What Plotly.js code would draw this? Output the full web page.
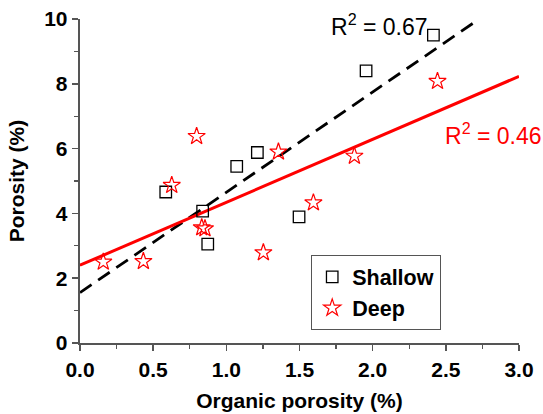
<!DOCTYPE html>
<html>
<head>
<meta charset="utf-8">
<script src="https://cdn.plot.ly/plotly-3.0.1.min.js"></script>
<style>html,body{margin:0;padding:0;background:#fff;}#chart{width:543px;height:414px;}</style>
</head>
<body>
<div id="chart"></div>
<script>
// Shallow samples (squares)
const shallowX = [0.586, 0.838, 0.873, 1.071, 1.212, 1.497, 1.955, 2.415];
const shallowY = [4.66, 4.07, 3.05, 5.45, 5.88, 3.89, 8.40, 9.50];
// Deep samples (stars)
const deepX = [0.159, 0.433, 0.627, 0.797, 0.832, 0.854, 1.253, 1.356, 1.595, 1.875, 2.443];
const deepY = [2.50, 2.52, 4.87, 6.38, 3.56, 3.53, 2.79, 5.90, 4.33, 5.77, 8.08];
// Linear fits: [x start, x end], intercept, slope
const shallowFitX = [0, 2.69];
const shallowFitIntercept = 1.556;
const shallowFitSlope = 3.095;
const deepFitX = [0, 3.0];
const deepFitIntercept = 2.40;
const deepFitSlope = 1.943;
const r2Labels = ["R<sup>2</sup> = 0.67", "R<sup>2</sup> = 0.46"];

const fitY = (xs, b, m) => xs.map(x => b + m * x);

const traces = [
  {x: shallowFitX, y: fitY(shallowFitX, shallowFitIntercept, shallowFitSlope), mode: 'lines',
   line: {color: '#000', width: 2.8, dash: '14px,8px'}, showlegend: false, hoverinfo: 'skip'},
  {x: deepFitX, y: fitY(deepFitX, deepFitIntercept, deepFitSlope), mode: 'lines',
   line: {color: '#ff0000', width: 3}, showlegend: false, hoverinfo: 'skip'},
  {x: shallowX, y: shallowY, mode: 'markers', name: 'Shallow', cliponaxis: false,
   marker: {symbol: 'square-open', size: 11.5, color: '#000', line: {width: 1.3, color: '#000'}}},
  {x: deepX, y: deepY, mode: 'markers', name: 'Deep', cliponaxis: false,
   marker: {symbol: 'star-open', size: 13, color: '#ff0000', line: {width: 1.2, color: '#ff0000'}}}
];

const boldFont = {family: 'Arial, Liberation Sans, sans-serif', size: 21, color: '#000', weight: 'bold'};
const axisCommon = {
  showline: true, linecolor: '#555', linewidth: 1.8, mirror: false,
  ticks: 'outside', ticklen: 6.5, tickwidth: 1.5, tickcolor: '#555',
  showgrid: false, zeroline: false, tickfont: boldFont
};

const layout = {
  width: 543, height: 414,
  margin: {l: 80, r: 24, t: 19, b: 71},
  paper_bgcolor: '#fff', plot_bgcolor: '#fff',
  showlegend: true,
  xaxis: Object.assign({}, axisCommon, {
    range: [0, 3.0], dtick: 0.5, tick0: 0, tickformat: '.1f',
    minor: {dtick: 0.25, ticklen: 4, tickcolor: '#555', tickwidth: 1.3, ticks: 'outside'},
    title: {text: 'Organic porosity (%)', font: boldFont, standoff: 14}
  }),
  yaxis: Object.assign({}, axisCommon, {
    range: [0, 10], dtick: 2, tick0: 0,
    minor: {dtick: 1, ticklen: 4, tickcolor: '#555', tickwidth: 1.3, ticks: 'outside'},
    title: {text: 'Porosity (%)', font: boldFont, standoff: 14}
  }),
  legend: {
    x: 0.526, y: 0.271, xanchor: 'left', yanchor: 'top',
    bordercolor: '#555', borderwidth: 1.3, bgcolor: '#fff',
    font: {family: 'Arial, Liberation Sans, sans-serif', size: 21.5, color: '#000', weight: 'bold'},
    tracegroupgap: 2
  },
  annotations: [
    {x: 2.05, y: 9.80, xref: 'x', yref: 'y', text: r2Labels[0], showarrow: false,
     font: {family: 'Arial, Liberation Sans, sans-serif', size: 23, color: '#000'}},
    {x: 2.823, y: 6.45, xref: 'x', yref: 'y', text: r2Labels[1], showarrow: false,
     font: {family: 'Arial, Liberation Sans, sans-serif', size: 23, color: '#ff0000'}}
  ]
};

Plotly.newPlot('chart', traces, layout, {displayModeBar: false, staticPlot: true});
</script>
</body>
</html>
